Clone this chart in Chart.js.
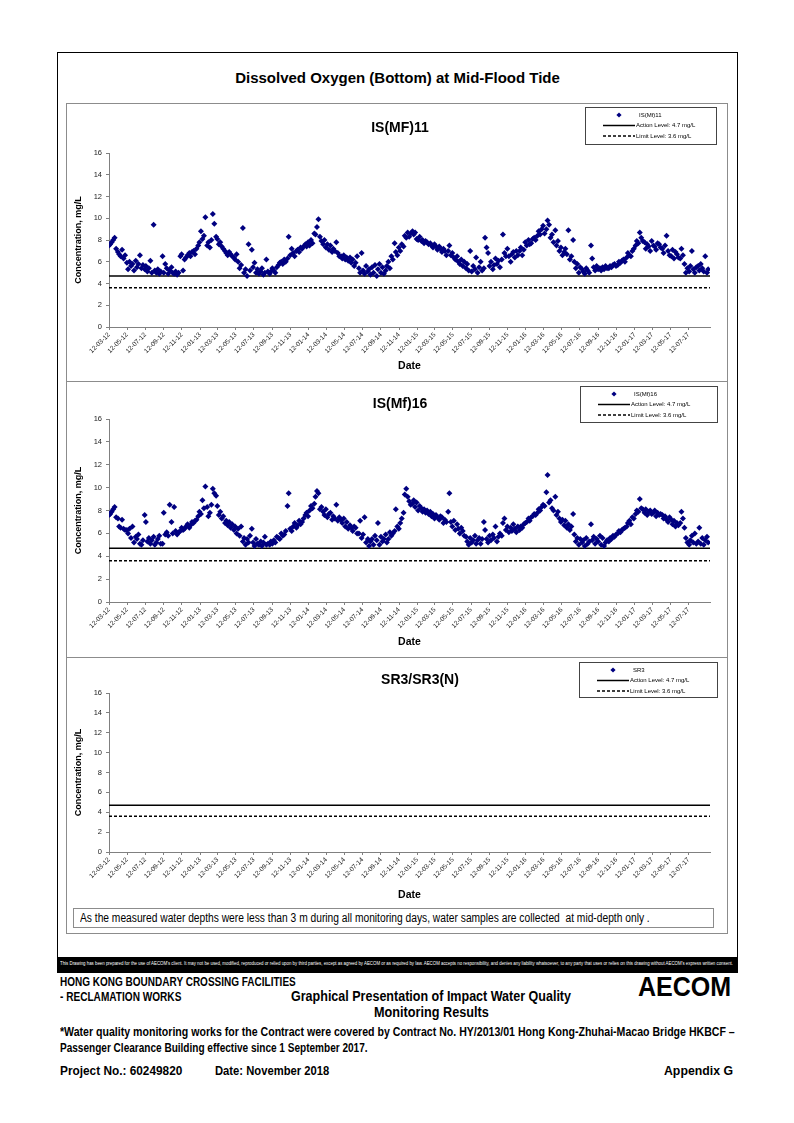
<!DOCTYPE html>
<html>
<head>
<meta charset="utf-8">
<script src="https://cdn.jsdelivr.net/npm/chart.js@4.4.0/dist/chart.umd.min.js"></script>
<style>
body { margin: 0; background: #fff; font-family: "Liberation Sans", Arial, sans-serif; }
#page { position: relative; width: 794px; height: 1123px; overflow: hidden; background: #fff; }
.abs { position: absolute; white-space: nowrap; }
.frame { left: 57px; top: 52px; width: 681px; height: 921px; border: 1px solid #000; box-sizing: border-box; }
.panel { left: 66px; width: 662px; border: 1px solid #8c8c8c; box-sizing: border-box; }
canvas { position: absolute; }
.nb { font-weight: bold; color: #000; transform-origin: 0 50%; }
</style>
</head>
<body>
<div id="page">
  <div class="abs frame"></div>
  <div class="abs" style="left:57px;top:68px;width:681px;text-align:center;font-weight:bold;font-size:15px;line-height:20px;">Dissolved Oxygen (Bottom) at Mid-Flood Tide</div>

  <div class="abs panel" style="top:103px;height:279px;"></div>
  <div class="abs panel" style="top:381px;height:277px;"></div>
  <div class="abs panel" style="top:657px;height:277px;"></div>

  <canvas id="c1" width="660" height="276" style="left:67px;top:104px;"></canvas>
  <canvas id="c2" width="660" height="274" style="left:67px;top:382px;"></canvas>
  <canvas id="c3" width="660" height="246" style="left:67px;top:658px;"></canvas>

  <div class="abs" style="left:73px;top:908px;width:641px;height:20px;border:1px solid #8c8c8c;box-sizing:border-box;"></div>
  <div class="abs fit" data-w="570" style="left:80px;top:908px;height:20px;line-height:20px;font-size:12px;color:#000;transform-origin:0 50%;">As the measured water depths were less than 3 m during all monitoring days, water samples are collected&nbsp; at mid-depth only .</div>

  <div class="abs" style="left:57px;top:957px;width:681px;height:16px;background:#000;overflow:hidden;">
    <span id="disc" class="abs" style="left:3px;top:4px;font-size:8px;line-height:8px;color:#fff;transform-origin:0 0;">This Drawing has been prepared for the use of AECOM's client. It may not be used, modified, reproduced or relied upon by third parties, except as agreed by AECOM or as required by law. AECOM accepts no responsibility, and denies any liability whatsoever, to any party that uses or relies on this drawing without AECOM's express written consent.</span>
  </div>

  <div class="abs nb fit" data-w="236" style="left:60px;top:975px;font-size:12px;line-height:14px;">HONG KONG BOUNDARY CROSSING FACILITIES</div>
  <div class="abs nb fit" data-w="121" style="left:60px;top:990px;font-size:12px;line-height:14px;">- RECLAMATION WORKS</div>
  <div class="abs nb fit" data-w="280" style="left:291px;top:988px;font-size:14px;line-height:16px;">Graphical Presentation of Impact Water Quality</div>
  <div class="abs nb fit" data-w="115" style="left:374px;top:1004px;font-size:14px;line-height:16px;">Monitoring Results</div>
  <div class="abs nb fit" data-w="93" style="left:638px;top:971px;font-size:28px;line-height:32px;">AECOM</div>
  <div class="abs nb fit" data-w="675" style="left:60px;top:1025px;font-size:12px;line-height:14px;">*Water quality monitoring works for the Contract were covered by Contract No. HY/2013/01 Hong Kong-Zhuhai-Macao Bridge HKBCF –</div>
  <div class="abs nb fit" data-w="308" style="left:60px;top:1041px;font-size:12px;line-height:14px;">Passenger Clearance Building effective since 1 September 2017.</div>
  <div class="abs nb fit" data-w="122" style="left:60px;top:1063px;font-size:13px;line-height:16px;">Project No.: 60249820</div>
  <div class="abs nb fit" data-w="114" style="left:215px;top:1063px;font-size:13px;line-height:16px;">Date: November 2018</div>
  <div class="abs nb fit" data-w="69" style="left:664px;top:1063px;font-size:13px;line-height:16px;">Appendix G</div>
</div>

<script>
// axis tick labels (dd-mm-yy), every two months from the first survey
const tickLabels = ['12-03-12','12-05-12','12-07-12','12-09-12','12-11-12','12-01-13','12-03-13','12-05-13',
  '12-07-13','12-09-13','12-11-13','12-01-14','12-03-14','12-05-14','12-07-14','12-09-14','12-11-14',
  '12-01-15','12-03-15','12-05-15','12-07-15','12-09-15','12-11-15','12-01-16','12-03-16','12-05-16',
  '12-07-16','12-09-16','12-11-16','12-01-17','12-03-17','12-05-17','12-07-17'];

const ACTION_LEVEL = 4.7;
const LIMIT_LEVEL = 3.6;
const X_MAX = 2020; // days after 12-03-12

// sampling days (days after 12-03-12), one row per two months
const sampleDays = [
  0,4,9,14,19,24,30,34,39,44,49,54,
  60,64,69,74,79,84,90,94,99,104,109,114,
  120,124,129,134,139,144,150,154,159,164,169,174,
  180,184,189,194,199,204,210,214,219,224,229,234,
  240,244,249,254,259,264,270,274,279,284,289,294,
  300,304,309,314,319,324,330,334,339,344,349,354,
  360,364,369,374,379,384,390,394,399,404,409,414,
  420,424,429,434,439,444,450,454,459,464,469,474,
  480,484,489,494,499,504,510,514,519,524,529,534,
  540,544,549,554,559,564,570,574,579,584,589,594,
  600,604,609,614,619,624,630,634,639,644,649,654,
  660,664,669,674,679,684,690,694,699,704,709,714,
  720,724,729,734,739,744,750,754,759,764,769,774,
  780,784,789,794,799,804,810,814,819,824,829,834,
  840,844,849,854,859,864,870,874,879,884,889,894,
  900,904,909,914,919,924,930,934,939,944,949,954,
  960,964,969,974,979,984,990,994,999,1004,1009,1014,
  1020,1024,1029,1034,1039,1044,1050,1054,1059,1064,1069,1074,
  1080,1084,1089,1094,1099,1104,1110,1114,1119,1124,1129,1134,
  1140,1144,1149,1154,1159,1164,1170,1174,1179,1184,1189,1194,
  1200,1204,1209,1214,1219,1224,1230,1234,1239,1244,1249,1254,
  1260,1264,1269,1274,1279,1284,1290,1294,1299,1304,1309,1314,
  1320,1324,1329,1334,1339,1344,1350,1354,1359,1364,1369,1374,
  1380,1384,1389,1394,1399,1404,1410,1414,1419,1424,1429,1434,
  1440,1444,1449,1454,1459,1464,1470,1474,1479,1484,1489,1494,
  1500,1504,1509,1514,1519,1524,1530,1534,1539,1544,1549,1554,
  1560,1564,1569,1574,1579,1584,1590,1594,1599,1604,1609,1614,
  1620,1624,1629,1634,1639,1644,1650,1654,1659,1664,1669,1674,
  1680,1684,1689,1694,1699,1704,1710,1714,1719,1724,1729,1734,
  1740,1744,1749,1754,1759,1764,1770,1774,1779,1784,1789,1794,
  1800,1804,1809,1814,1819,1824,1830,1834,1839,1844,1849,1854,
  1860,1864,1869,1874,1879,1884,1890,1894,1899,1904,1909,1914,
  1920,1924,1929,1934,1939,1944,1950,1954,1959,1964,1969,1974,
  1980,1984,1989,1994,1999,2004,2010,2014
];

// IS(Mf)11 bottom DO, mg/L
const mf11Values = [
  7.5,7.6,7.8,8.0,8.2,7.2,6.9,6.7,6.5,7.1,6.3,6.6,
  5.9,5.3,6.0,5.6,5.8,5.2,6.1,5.5,5.8,6.6,5.4,5.7,
  5.3,5.6,5.1,5.4,6.1,5.0,9.4,5.2,5.0,5.3,4.9,5.1,
  6.5,5.0,5.8,5.4,4.9,5.2,5.5,5.0,4.9,5.1,4.8,5.0,
  6.5,6.7,5.2,6.2,6.4,6.6,6.8,6.5,6.9,7.0,6.7,7.2,
  7.5,7.8,8.8,8.1,8.4,10.1,7.5,7.8,7.3,8.0,10.4,9.5,
  8.3,8.1,7.6,7.8,7.4,7.2,7.0,6.8,6.6,6.9,6.7,6.5,
  6.4,6.2,6.7,6.0,5.4,5.7,9.1,5.0,5.3,4.7,7.6,5.2,
  7.1,5.5,5.9,5.0,5.3,4.9,5.1,5.4,4.8,5.0,6.2,5.1,
  4.9,5.1,5.4,5.2,5.0,5.5,5.7,5.9,6.0,5.8,6.2,6.0,
  6.3,8.3,6.6,7.2,6.8,6.5,7.0,7.1,6.9,7.3,7.2,7.4,
  7.6,7.4,7.8,7.5,8.0,7.7,8.6,8.5,9.2,9.9,8.3,7.9,
  7.6,8.0,7.3,7.6,7.1,7.5,6.9,7.2,7.0,7.8,6.8,6.5,
  6.5,6.3,6.6,6.2,6.4,6.1,6.4,5.9,6.2,5.6,5.9,6.5,
  5.4,5.0,6.8,5.2,4.9,5.6,5.1,5.3,4.8,5.5,5.0,5.7,
  4.7,5.3,5.8,5.0,5.5,4.9,5.2,5.6,6.0,5.4,6.5,6.2,
  7.7,6.9,6.6,7.3,7.0,7.6,7.4,8.4,8.2,8.7,8.3,8.6,
  8.8,8.5,8.7,8.1,8.0,8.3,7.9,8.0,7.7,7.9,7.8,7.6,
  7.7,7.5,7.3,7.6,7.4,7.1,7.4,7.2,6.9,7.2,7.0,6.6,
  7.0,7.5,6.6,6.8,6.4,6.2,6.5,6.0,5.8,6.2,5.6,6.0,
  5.4,5.8,5.2,7.0,5.1,5.6,5.3,6.4,5.0,5.5,6.0,5.2,
  5.4,8.2,7.3,6.8,5.6,6.0,5.3,5.7,6.3,5.8,6.1,5.5,
  6.2,8.5,6.8,6.5,7.2,6.5,6.0,6.7,6.9,6.4,7.0,6.6,
  7.0,7.3,6.6,7.1,7.8,7.5,8.0,7.6,7.7,8.1,8.2,8.0,
  8.4,8.8,8.5,9.0,9.3,8.6,9.0,9.8,9.4,8.2,8.5,7.8,
  8.9,7.5,7.9,7.0,7.3,6.6,6.9,7.2,6.7,8.9,6.2,6.5,
  8.0,6.0,5.4,5.8,5.0,5.5,5.3,5.1,4.9,5.4,5.2,5.0,
  7.5,6.3,5.5,5.2,5.6,5.3,5.4,5.2,5.5,5.3,5.6,5.4,
  5.4,5.6,5.5,5.7,5.8,5.6,5.7,6.0,5.9,6.1,6.2,6.0,
  6.4,6.8,6.6,6.5,7.0,7.2,7.5,7.9,7.7,8.7,8.2,7.9,
  7.8,7.2,7.6,7.4,7.0,7.9,7.5,7.4,7.1,7.7,7.6,7.3,
  7.2,6.8,7.5,8.4,7.0,6.6,6.5,7.1,6.3,6.9,6.7,6.4,
  6.3,7.2,6.6,5.8,5.0,5.4,5.1,5.6,7.0,5.3,5.0,5.5,
  5.6,5.2,5.8,5.4,5.1,6.5,5.0,5.3
];

// IS(Mf)16 bottom DO, mg/L
const mf16Values = [
  7.6,7.7,7.9,8.1,8.3,7.4,7.3,6.6,6.5,7.2,6.4,6.3,
  6.3,6.0,6.4,5.6,6.6,5.2,5.7,5.5,5.9,5.1,5.0,5.4,
  7.6,7.0,5.3,5.6,5.1,5.4,5.7,5.0,5.2,5.5,5.8,5.1,
  5.1,7.8,5.9,6.1,5.8,8.5,7.0,6.0,8.3,6.2,5.9,6.1,
  6.2,6.5,6.3,6.4,6.6,6.8,6.5,6.7,7.0,6.9,7.1,7.2,
  7.5,7.9,7.7,8.9,8.2,10.1,8.3,7.5,7.8,8.5,9.9,9.5,
  9.3,8.4,7.6,7.9,7.3,7.5,6.9,7.1,6.7,7.0,6.5,6.8,
  6.3,6.6,6.0,6.4,5.8,6.6,5.3,5.6,5.0,5.5,5.2,5.8,
  6.4,5.2,4.9,5.5,5.1,5.0,5.3,4.9,5.2,5.7,5.0,5.1,
  5.0,5.3,5.1,5.4,5.2,5.7,5.6,5.5,6.0,5.8,5.9,6.2,
  8.4,9.5,6.4,6.2,6.6,6.9,6.5,6.7,7.1,6.8,7.0,7.3,
  7.6,7.8,7.5,8.0,8.4,8.2,8.6,9.2,9.7,9.5,8.1,8.3,
  7.9,7.6,8.1,7.4,7.7,7.8,7.2,7.5,7.3,8.5,7.1,7.4,
  7.2,6.9,7.3,6.6,7.0,6.4,6.7,6.5,6.2,6.6,6.5,6.0,
  6.0,7.1,5.6,5.9,7.4,5.2,5.5,4.9,5.3,5.5,5.0,5.8,
  5.4,6.9,5.0,5.7,5.3,5.5,5.9,5.2,5.5,6.1,5.8,6.0,
  6.2,8.1,6.6,6.4,6.9,7.3,7.8,9.4,9.9,9.2,8.8,8.5,
  8.6,8.9,8.3,8.7,8.0,8.4,8.2,7.9,8.1,7.8,8.0,7.7,
  7.9,7.5,7.7,7.3,7.6,7.4,7.2,7.5,7.4,6.9,7.2,7.0,
  7.9,9.5,7.0,6.6,7.1,6.3,6.8,6.4,6.0,6.5,6.2,5.8,
  5.7,5.3,5.0,5.6,5.2,5.4,5.8,5.1,5.4,5.6,5.1,5.5,
  7.0,6.3,5.5,5.2,5.8,5.4,5.9,5.6,6.6,5.3,5.7,6.0,
  5.8,6.9,7.3,6.3,6.6,6.1,6.5,6.2,6.8,6.4,6.1,6.6,
  6.3,6.6,6.5,6.8,6.9,7.0,7.3,7.1,7.4,7.5,7.7,7.6,
  7.8,8.1,8.0,8.3,8.5,8.4,9.6,11.1,8.7,8.9,8.2,8.0,
  9.2,7.6,7.9,7.3,7.0,7.2,6.7,7.1,6.5,6.8,6.3,6.6,
  7.7,5.9,5.3,5.6,5.0,5.5,5.2,5.4,4.9,5.6,5.1,5.3,
  6.8,5.4,5.7,5.1,5.5,5.3,5.8,5.0,5.6,4.9,5.2,5.4,
  5.3,5.6,5.5,5.8,5.7,5.9,6.0,6.2,6.1,6.3,6.4,6.5,
  6.6,6.9,7.1,6.8,7.4,7.3,7.7,8.0,7.9,9.0,8.2,8.1,
  7.8,8.1,7.6,7.9,8.0,7.7,7.8,8.0,7.5,7.8,7.6,7.7,
  7.6,7.3,7.5,7.2,7.0,7.4,7.2,6.8,7.1,6.6,6.9,6.7,
  6.9,7.9,7.3,6.5,5.6,5.2,5.0,5.4,5.8,5.2,6.0,5.1,
  5.3,6.5,5.1,5.6,5.0,5.4,5.7,5.2
];

// SR3 / SR3(N): no bottom samples
const sr3Values = [];

const START = Date.UTC(2012, 2, 12);
const labelToDay = (s) => {
    const [d, m, y] = s.split('-').map(Number);
    return Math.round((Date.UTC(2000 + y, m - 1, d) - START) / 86400000);
};
const tickDays = tickLabels.map(labelToDay);

const MARKER = '#000080';
const FONT = '"Liberation Sans", Arial, sans-serif';

// chart title + boxed legend, drawn on top of each panel
const panelDecor = {
    id: 'panelDecor',
    afterDraw: (chart, args, o) => {
        const ctx = chart.ctx;
        ctx.save();
        ctx.fillStyle = '#000';
        ctx.font = 'bold 14px ' + FONT;
        ctx.textAlign = 'center';
        ctx.textBaseline = 'middle';
        ctx.fillText(o.title, o.titleX, o.titleY);

        const b = o.box;
        ctx.strokeStyle = '#444';
        ctx.lineWidth = 1;
        ctx.strokeRect(b.x + 0.5, b.y + 0.5, b.w, b.h);
        ctx.font = '6px ' + FONT;
        ctx.textAlign = 'left';
        const ds = chart.data.datasets;
        const rows = [b.y + 8, b.y + 18.5, b.y + 29];

        ctx.fillStyle = ds[0].backgroundColor;
        Chart.helpers.drawPoint(ctx, {pointStyle: 'rectRot', radius: 2.6, rotation: 0}, b.x + 34, rows[0]);
        ctx.fillStyle = '#000';
        ctx.fillText(ds[0].label, b.x + 54, rows[0]);

        [1, 2].forEach((i) => {
            ctx.strokeStyle = ds[i].borderColor;
            ctx.lineWidth = ds[i].borderWidth;
            ctx.setLineDash(ds[i].borderDash || []);
            ctx.beginPath();
            ctx.moveTo(b.x + 18, rows[i]);
            ctx.lineTo(b.x + 50, rows[i]);
            ctx.stroke();
            ctx.setLineDash([]);
            ctx.fillText(ds[i].label, b.x + 51, rows[i]);
        });
        ctx.restore();
    }
};

const makeChart = (id, cfg) => {
    const ctx = document.getElementById(id).getContext('2d');
    const points = cfg.values.map((v, i) => ({x: sampleDays[i], y: v}));
    return new Chart(ctx, {
        type: 'scatter',
        data: {
            datasets: [
                {
                    label: cfg.label,
                    data: points,
                    backgroundColor: MARKER,
                    borderColor: MARKER,
                    borderWidth: 0,
                    pointStyle: 'rectRot',
                    pointRadius: 3,
                    order: 0
                },
                {
                    label: 'Action Level: 4.7 mg/L',
                    data: [{x: 0, y: ACTION_LEVEL}, {x: X_MAX, y: ACTION_LEVEL}],
                    showLine: true,
                    borderColor: '#000',
                    borderWidth: 1.5,
                    pointRadius: 0,
                    order: 1
                },
                {
                    label: 'Limit Level: 3.6 mg/L',
                    data: [{x: 0, y: LIMIT_LEVEL}, {x: X_MAX, y: LIMIT_LEVEL}],
                    showLine: true,
                    borderColor: '#000',
                    borderWidth: 1.5,
                    borderDash: [3, 2],
                    pointRadius: 0,
                    order: 2
                }
            ]
        },
        options: {
            responsive: false,
            animation: false,
            devicePixelRatio: 1,
            layout: {
                padding: {left: 0, right: 17, top: cfg.top, bottom: 0}
            },
            plugins: {
                legend: {display: false},
                tooltip: {enabled: false},
                panelDecor: {
                    title: cfg.title,
                    titleX: cfg.titleX,
                    titleY: cfg.titleY,
                    box: cfg.box
                }
            },
            scales: {
                x: {
                    type: 'linear',
                    min: 0,
                    max: X_MAX,
                    afterBuildTicks: (scale) => {
                        scale.ticks = tickDays.map(v => ({value: v}));
                    },
                    afterFit: (scale) => {
                        scale.height = cfg.xHeight;
                    },
                    ticks: {
                        autoSkip: false,
                        maxRotation: 45,
                        minRotation: 45,
                        padding: 1,
                        color: '#222',
                        font: {family: FONT, size: 6.5},
                        callback: (value) => {
                            const i = tickDays.indexOf(value);
                            return i >= 0 ? tickLabels[i] : '';
                        }
                    },
                    grid: {
                        drawOnChartArea: false,
                        drawTicks: true,
                        tickLength: 3,
                        color: '#808080'
                    },
                    border: {display: true, color: '#808080', width: 1},
                    title: {
                        display: true,
                        text: 'Date',
                        color: '#000',
                        font: {family: FONT, size: 10.5, weight: 'bold'},
                        padding: {top: 0, bottom: cfg.dateGap}
                    }
                },
                y: {
                    min: 0,
                    max: 16,
                    afterFit: (scale) => {
                        scale.width = 42;
                    },
                    ticks: {
                        stepSize: 2,
                        padding: 4,
                        color: '#222',
                        font: {family: FONT, size: 7.5}
                    },
                    grid: {
                        drawOnChartArea: false,
                        drawTicks: true,
                        tickLength: 3,
                        color: '#808080'
                    },
                    border: {display: true, color: '#808080', width: 1},
                    title: {
                        display: true,
                        text: 'Concentration, mg/L',
                        color: '#000',
                        font: {family: FONT, size: 9, weight: 'bold'},
                        padding: {top: 6, bottom: 0}
                    }
                }
            }
        },
        plugins: [panelDecor]
    });
};

makeChart('c1', {
    values: mf11Values, label: 'IS(Mf)11', title: 'IS(MF)11',
    titleX: 333, titleY: 24, top: 49, xHeight: 53, dateGap: 8,
    box: {x: 518, y: 3, w: 131, h: 37}
});
makeChart('c2', {
    values: mf16Values, label: 'IS(Mf)16', title: 'IS(Mf)16',
    titleX: 333, titleY: 22, top: 37, xHeight: 54, dateGap: 8,
    box: {x: 513, y: 4, w: 137, h: 36}
});
makeChart('c3', {
    values: sr3Values, label: 'SR3', title: 'SR3/SR3(N)',
    titleX: 353, titleY: 22, top: 35, xHeight: 52, dateGap: 3,
    box: {x: 512, y: 4, w: 138, h: 35}
});

// narrow-font look: squeeze each text line to the width it has in the drawing
document.querySelectorAll('.fit').forEach((el) => {
    const k = Number(el.dataset.w) / el.offsetWidth;
    el.style.transform = 'scaleX(' + k + ')';
});
const disc = document.getElementById('disc');
disc.style.transform = 'scale(' + (673 / disc.offsetWidth) + ', 0.6)';
</script>
</body>
</html>
